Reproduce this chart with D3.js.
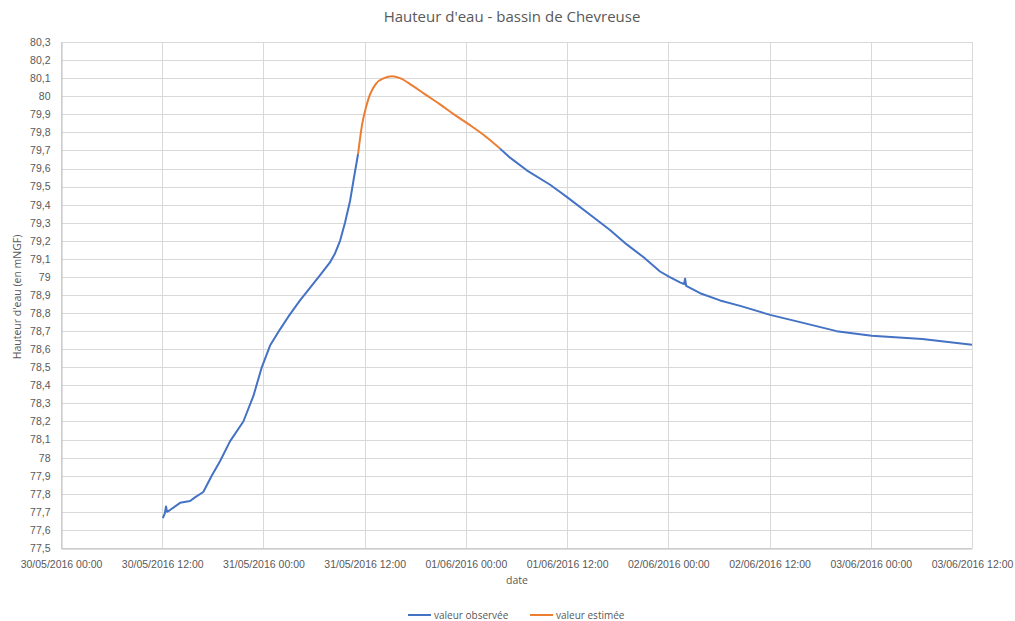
<!DOCTYPE html>
<html>
<head>
<meta charset="utf-8">
<script src="https://cdn.jsdelivr.net/npm/d3@7"></script>
<style>
  body { margin: 0; background: #fff; }
  svg { font-family: "Open Sans", sans-serif; }
</style>
</head>
<body>
<svg id="chart"></svg>
<script>
// hours since 30/05/2016 00:00
const obsHours1 = [12.06, 12.30, 12.45, 12.57, 12.92, 14.11, 15.30, 15.89, 16.87, 17.87, 18.85, 20.04, 21.61, 22.80, 23.80, 24.78, 25.97, 26.95, 28.34, 29.52, 30.71, 31.89, 32.49, 33.08, 33.67, 34.27, 34.74, 35.21];
const obsValues1 = [77.665, 77.69, 77.73, 77.70, 77.71, 77.75, 77.76, 77.78, 77.81, 77.90, 77.98, 78.09, 78.20, 78.34, 78.50, 78.62, 78.71, 78.78, 78.87, 78.94, 79.01, 79.08, 79.13, 79.20, 79.30, 79.42, 79.55, 79.68];

const estHours = [35.21, 35.69, 36.16, 36.64, 37.35, 38.30, 39.25, 40.19, 41.62, 43.16, 44.94, 46.72, 48.49, 50.27, 52.05];
const estValues = [79.68, 79.84, 79.94, 80.01, 80.07, 80.10, 80.11, 80.10, 80.06, 80.01, 79.955, 79.895, 79.84, 79.78, 79.71];

const obsHours2 = [52.05, 53.24, 55.22, 57.98, 59.17, 60.03, 63.11, 65.09, 67.07, 69.04, 71.02, 72.12, 73.39, 73.87, 73.99, 74.11, 75.76, 78.14, 80.51, 84.07, 87.62, 91.95, 96.10, 102.10, 108.0];
const obsValues2 = [79.71, 79.66, 79.59, 79.51, 79.47, 79.44, 79.33, 79.26, 79.18, 79.11, 79.03, 79.00, 78.97, 78.96, 78.99, 78.95, 78.91, 78.87, 78.84, 78.79, 78.75, 78.70, 78.675, 78.657, 78.625];

const xTickHours = [0, 12, 24, 36, 48, 60, 72, 84, 96, 108];
const yTickValues = [77.5, 77.6, 77.7, 77.8, 77.9, 78, 78.1, 78.2, 78.3, 78.4, 78.5, 78.6, 78.7, 78.8, 78.9, 79, 79.1, 79.2, 79.3, 79.4, 79.5, 79.6, 79.7, 79.8, 79.9, 80, 80.1, 80.2, 80.3];

const title = "Hauteur d'eau - bassin de Chevreuse";
const yTitle = "Hauteur d'eau (en mNGF)";
const xTitle = "date";
const seriesNames = ["valeur observée", "valeur estimée"];
const colors = ["#4472C4", "#ED7D31"];

const w = 1015;
const h = 621;
const margin = { top: 42, right: 43, bottom: 73, left: 61 };
const textColor = "#595959";
const gridColor = "#d9d9d9";

const start = new Date(2016, 4, 30, 0, 0);
const toDate = (hr) => d3.timeMinute.offset(start, Math.round(hr * 60));

const svg = d3.select("#chart").attr("width", w).attr("height", h);

const xScale = d3
  .scaleTime()
  .domain([toDate(0), toDate(108)])
  .range([margin.left, w - margin.right]);

const yScale = d3
  .scaleLinear()
  .domain([77.5, 80.3])
  .range([h - margin.bottom, margin.top]);

const locale = d3.formatLocale({ decimal: ",", thousands: " ", grouping: [3], currency: ["", "€"] });
const fmtY = locale.format("~f");
const fmtX = d3.timeFormat("%d/%m/%Y %H:%M");

// gridlines
svg
  .append("g")
  .selectAll("line")
  .data(yTickValues)
  .enter()
  .append("line")
  .attr("x1", margin.left)
  .attr("x2", w - margin.right)
  .attr("y1", (d) => Math.round(yScale(d)) + 0.5)
  .attr("y2", (d) => Math.round(yScale(d)) + 0.5)
  .attr("stroke", gridColor);

svg
  .append("g")
  .selectAll("line")
  .data(xTickHours)
  .enter()
  .append("line")
  .attr("x1", (d) => Math.round(xScale(toDate(d))) + 0.5)
  .attr("x2", (d) => Math.round(xScale(toDate(d))) + 0.5)
  .attr("y1", margin.top)
  .attr("y2", h - margin.bottom)
  .attr("stroke", gridColor);

// axes
const xAxis = d3
  .axisBottom(xScale)
  .tickValues(xTickHours.map(toDate))
  .tickFormat(fmtX)
  .tickSize(0)
  .tickPadding(12);

const yAxis = d3
  .axisLeft(yScale)
  .tickValues(yTickValues)
  .tickFormat((d) => fmtY(d))
  .tickSize(0)
  .tickPadding(11);

const gx = svg
  .append("g")
  .attr("transform", `translate(0, ${Math.round(h - margin.bottom) + 0.5})`)
  .call(xAxis);
gx.select(".domain").attr("stroke", "#bfbfbf");
gx.selectAll("text").attr("fill", textColor).style("font-size", "10.5px");

const gy = svg
  .append("g")
  .attr("transform", `translate(${margin.left + 0.5},0)`)
  .call(yAxis);
gy.select(".domain").attr("stroke", "#bfbfbf");
gy.selectAll("text").attr("fill", textColor).style("font-size", "10.5px");

// lines
const line = d3
  .line()
  .x((d) => xScale(toDate(d[0])))
  .y((d) => yScale(d[1]));

const seriesData = [
  { pts: d3.zip(obsHours1, obsValues1), color: colors[0] },
  { pts: d3.zip(estHours, estValues), color: colors[1], curve: true },
  { pts: d3.zip(obsHours2, obsValues2), color: colors[0] },
];

seriesData.forEach((s) => {
  svg
    .append("path")
    .datum(s.pts)
    .attr("fill", "none")
    .attr("stroke", s.color)
    .attr("stroke-width", 2)
    .attr("stroke-linejoin", "round")
    .attr("d", s.curve ? line.curve(d3.curveMonotoneX)(s.pts) : line.curve(d3.curveLinear)(s.pts));
});

// titles
svg
  .append("text")
  .attr("x", 512)
  .attr("y", 22)
  .attr("text-anchor", "middle")
  .attr("fill", textColor)
  .style("font-size", "15px")
  .text(title);

svg
  .append("text")
  .attr("transform", `translate(21, 297) rotate(-90)`)
  .attr("text-anchor", "middle")
  .attr("fill", textColor)
  .style("font-size", "10.5px")
  .text(yTitle);

svg
  .append("text")
  .attr("x", 517)
  .attr("y", 584)
  .attr("text-anchor", "middle")
  .attr("fill", textColor)
  .style("font-size", "10.5px")
  .text(xTitle);

// legend
const legendX = [408, 530];
const legend = svg
  .append("g")
  .selectAll("g")
  .data(seriesNames)
  .enter()
  .append("g")
  .attr("transform", (d, i) => `translate(${legendX[i]}, 615)`);

legend
  .append("line")
  .attr("x1", 0)
  .attr("x2", 23)
  .attr("stroke", (d, i) => colors[i])
  .attr("stroke-width", 2);

legend
  .append("text")
  .attr("x", 26)
  .attr("y", 3.5)
  .attr("fill", textColor)
  .style("font-size", "10px")
  .text((d) => d);
</script>
</body>
</html>
